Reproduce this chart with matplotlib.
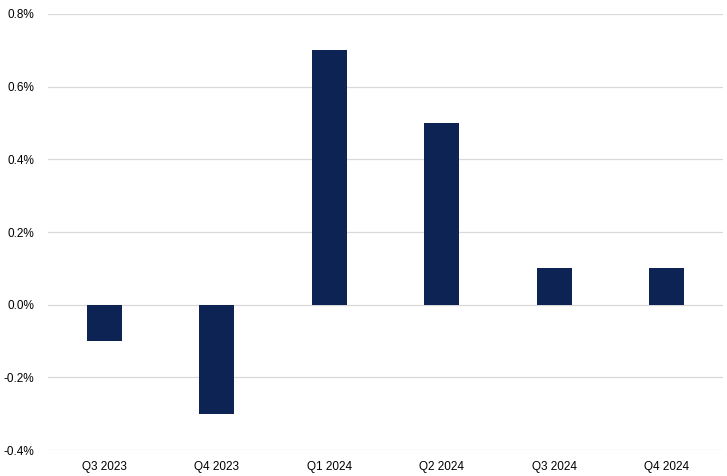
import matplotlib.pyplot as plt
from matplotlib.ticker import FuncFormatter

quarters = ["Q3 2023", "Q4 2023", "Q1 2024", "Q2 2024", "Q3 2024", "Q4 2024"]
growth = [-0.1, -0.3, 0.7, 0.5, 0.1, 0.1]  # percent
yticks = [-0.4, -0.2, 0.0, 0.2, 0.4, 0.6, 0.8]

plt.rcParams['font.family'] = ['Liberation Sans', 'DejaVu Sans']

fig = plt.figure(figsize=(7.27, 4.76), dpi=100)
ax = fig.add_axes([0.066, 0.0546, 0.9285, 0.916])

ax.bar(range(len(quarters)), growth, width=0.31, color='#0c2354', zorder=3)

ax.set_xlim(-0.5, len(quarters) - 0.5)
ax.set_ylim(-0.4, 0.8)
ax.set_yticks(yticks)
ax.yaxis.set_major_formatter(FuncFormatter(lambda v, p: f"{v:.1f}%"))
ax.set_xticks(range(len(quarters)))
ax.set_xticklabels(quarters)

ax.grid(axis='y', color='#d9d9d9', linewidth=0.9, zorder=0)
for s in ax.spines.values():
    s.set_visible(False)
ax.tick_params(length=0, labelsize=8.5, colors='black')
ax.tick_params(axis='y', pad=10)
ax.tick_params(axis='x', pad=8)

plt.savefig("out.png", dpi=100)
